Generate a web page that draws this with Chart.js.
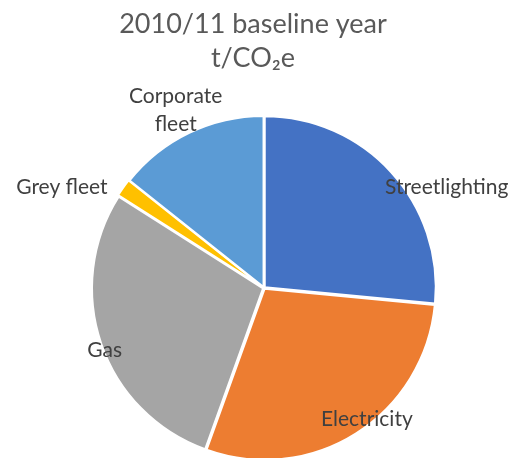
<!DOCTYPE html>
<html>
<head>
<meta charset="utf-8">
<script src="https://cdn.jsdelivr.net/npm/chart.js@4/dist/chart.umd.min.js"></script>
<style>
html,body{margin:0;padding:0;background:#fff;}
#wrap{width:521px;height:458px;position:relative;}
</style>
</head>
<body>
<div id="wrap"><canvas id="c" width="521" height="458"></canvas></div>
<script>
// Data (share of 2010/11 baseline emissions, t/CO2e)
const categories = ['Streetlighting', 'Electricity', 'Gas', 'Grey fleet', 'Corporate fleet'];
const values = [26.5, 29.0, 28.5, 1.7, 14.3];
const sliceColors = ['#4472C4', '#ED7D31', '#A5A5A5', '#FFC000', '#5B9BD5'];
const titleLines = ['2010/11 baseline year', 't/CO\u2082e'];

// label placement relative to each slice: [angle adjust (deg), radius factor]
const labelPlacement = [[13.4, 1.22], [-5.7, 0.975], [-2.4, 1.0], [-9, 1.32], [-0.7, 1.16]];
const labelLines = [['Streetlighting'], ['Electricity'], ['Gas'], ['Grey fleet'], ['Corporate', 'fleet']];

const titleShift = {
  id: 'titleShift',
  afterLayout(chart) {
    const t = chart.titleBlock;
    if (t) { t.left -= 11; t.right -= 11; }
  }
};

const labelPlugin = {
  id: 'sliceLabels',
  afterDatasetsDraw(chart) {
    const ctx = chart.ctx;
    const meta = chart.getDatasetMeta(0);
    ctx.save();
    ctx.font = '21px Lato, "Open Sans", sans-serif';
    ctx.fillStyle = '#404040';
    ctx.textAlign = 'center';
    ctx.textBaseline = 'middle';
    meta.data.forEach((arc, i) => {
      const p = arc.getProps(['x', 'y', 'startAngle', 'endAngle', 'outerRadius'], true);
      const mid = (p.startAngle + p.endAngle) / 2 + labelPlacement[i][0] * Math.PI / 180;
      const r = p.outerRadius * labelPlacement[i][1];
      const x = p.x + Math.cos(mid) * r;
      const y = p.y + Math.sin(mid) * r;
      const lines = labelLines[i];
      const lh = 28;
      lines.forEach((ln, k) => {
        ctx.fillText(ln, x, y + (k - (lines.length - 1) / 2) * lh);
      });
    });
    ctx.restore();
  }
};

new Chart(document.getElementById('c'), {
  type: 'pie',
  data: {
    labels: categories,
    datasets: [{
      data: values,
      backgroundColor: sliceColors,
      borderColor: '#ffffff',
      borderWidth: 2,
      offset: 4,
      clip: false
    }]
  },
  options: {
    responsive: false,
    animation: false,
    radius: 171,
    layout: { padding: { left: 7, right: 0, top: 0, bottom: 0 } },
    plugins: {
      legend: { display: false },
      tooltip: { enabled: false },
      title: {
        display: true,
        text: titleLines,
        color: '#595959',
        font: { family: 'Lato, "Open Sans", sans-serif', size: 27, weight: 'normal', lineHeight: '34px' },
        padding: { top: 7, bottom: 43 }
      }
    }
  },
  plugins: [titleShift, labelPlugin]
});
</script>
</body>
</html>
